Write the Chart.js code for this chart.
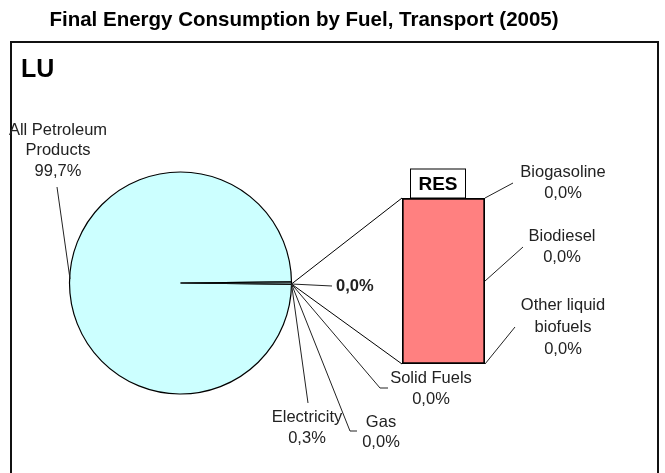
<!DOCTYPE html>
<html>
<head>
<meta charset="utf-8">
<script src="https://cdn.jsdelivr.net/npm/chart.js@4.4.0/dist/chart.umd.min.js"></script>
<style>
  body { margin: 0; background: #fff; }
  #wrap { position: relative; width: 665px; height: 473px; overflow: hidden; }
  #wrap canvas { position: absolute; left: 0; top: 0; }
</style>
</head>
<body>
<div id="wrap">
  <canvas id="pieChart" width="665" height="473"></canvas>
  <canvas id="barChart" width="665" height="473"></canvas>
</div>
<script>
// main pie: share of final energy consumption in transport (%)
const pieLabels = ['All Petroleum Products', 'Electricity', 'Gas', 'Solid Fuels', 'RES'];
const pieValues = [99.7, 0.3, 0.0, 0.0, 0.0];

// secondary bar: split of the RES slice (%)
const resLabels = ['Biogasoline', 'Biodiesel', 'Other liquid biofuels'];
const resValues = [0.0, 0.0, 0.0];
const resBar = [100]; // the bar always stands for the whole RES slice

const titleText = 'Final Energy Consumption by Fuel, Transport (2005)';
const countryText = 'LU';

const FONT = '"Liberation Sans", Arial, sans-serif';
const TXT = '#222';

function pct(v) {
    return v.toFixed(1).replace('.', ',') + '%';
}

function lines(ctx, arr, x, y, lh) {
    for (let i = 0; i < arr.length; i++) ctx.fillText(arr[i], x, y + i * lh);
}

function seg(ctx, pts) {
    ctx.beginPath();
    ctx.moveTo(pts[0][0], pts[0][1]);
    for (let i = 1; i < pts.length; i++) ctx.lineTo(pts[i][0], pts[i][1]);
    ctx.stroke();
}

// small slices sit centred on 3 o'clock
let total = pieValues.reduce((a, b) => a + b, 0);
let smallShare = (total - pieValues[0]) / total;

// frame + title under the pie
const framePlugin = {
    id: 'frame',
    beforeDraw(chart) {
        const ctx = chart.ctx;
        ctx.save();
        ctx.fillStyle = '#fff';
        ctx.fillRect(0, 0, chart.width, chart.height);
        ctx.strokeStyle = '#111';
        ctx.lineWidth = 2;
        ctx.strokeRect(11, 42, 647, 500);
        ctx.fillStyle = '#000';
        ctx.font = 'bold 20.5px ' + FONT;
        ctx.textAlign = 'center';
        ctx.textBaseline = 'alphabetic';
        ctx.fillText(titleText, 304, 26);
        ctx.textAlign = 'left';
        ctx.font = 'bold 25px ' + FONT;
        ctx.fillText(countryText, 21, 77);
        ctx.restore();
    }
};

let pieChart = new Chart(document.getElementById('pieChart').getContext('2d'), {
    type: 'pie',
    data: {
        labels: pieLabels,
        datasets: [{
            data: pieValues,
            backgroundColor: '#ccffff',
            borderColor: '#000',
            borderWidth: 1.2
        }]
    },
    options: {
        responsive: false,
        animation: false,
        events: [],
        rotation: 90 + smallShare * 180,
        radius: 111,
        layout: { padding: { left: 69, right: 373, top: 172, bottom: 79 } },
        plugins: { legend: { display: false }, tooltip: { enabled: false } }
    },
    plugins: [framePlugin]
});

// connectors, RES box and data labels on top
const overlayPlugin = {
    id: 'overlay',
    afterDraw(chart) {
        const ctx = chart.ctx;
        const arc = pieChart.getDatasetMeta(0).data[0];
        const cx = arc.x, cy = arc.y, r = arc.outerRadius;
        const bar = chart.getDatasetMeta(0).data[0];
        const bl = bar.x - bar.width / 2, br = bar.x + bar.width / 2;
        const bt = bar.y, bb = bar.base;
        const px = cx + r, py = cy + 1; // where the small slices sit

        ctx.save();
        ctx.lineWidth = 1;
        ctx.strokeStyle = '#000';
        // pie -> bar connectors
        seg(ctx, [[px, py], [bl, bt]]);
        seg(ctx, [[px, py], [bl, bb]]);

        // RES header box
        ctx.fillStyle = '#fff';
        ctx.fillRect(bl + 8.5, bt - 29, 55, 29);
        ctx.strokeRect(bl + 8.5, bt - 29, 55, 29);
        ctx.fillStyle = '#000';
        ctx.font = 'bold 19px ' + FONT;
        ctx.textAlign = 'center';
        ctx.textBaseline = 'alphabetic';
        ctx.fillText(pieLabels[4], bl + 36, bt - 8);

        // leader lines
        ctx.strokeStyle = '#222';
        seg(ctx, [[57, 187], [cx - r + 0.5, cy - 4]]);
        seg(ctx, [[px, py], [308, 403]]);
        seg(ctx, [[px, py], [350, 431], [357, 431]]);
        seg(ctx, [[px, py], [380, 388], [388, 388]]);
        seg(ctx, [[px, py], [312, 285], [332, 286]]);
        seg(ctx, [[br, bt], [513, 183]]);
        seg(ctx, [[br, (bt + bb) / 2], [523, 247]]);
        seg(ctx, [[br, bb], [515, 327]]);

        // labels
        ctx.fillStyle = TXT;
        ctx.font = '16.5px ' + FONT;
        ctx.textAlign = 'center';
        ctx.textBaseline = 'middle';
        lines(ctx, ['All Petroleum', 'Products', pct(pieValues[0])], 58, 130, 20.5);
        lines(ctx, [pieLabels[1], pct(pieValues[1])], 307, 417, 21);
        lines(ctx, [pieLabels[2], pct(pieValues[2])], 381, 422, 20.5);
        lines(ctx, [pieLabels[3], pct(pieValues[3])], 431, 378, 21);
        lines(ctx, [resLabels[0], pct(resValues[0])], 563, 172, 21);
        lines(ctx, [resLabels[1], pct(resValues[1])], 562, 236, 21);
        lines(ctx, ['Other liquid', 'biofuels', pct(resValues[2])], 563, 305, 22);
        ctx.font = 'bold 16.5px ' + FONT;
        ctx.textAlign = 'left';
        ctx.fillText(pct(pieValues[4]), 336, 286);
        ctx.restore();
    }
};

let barChart = new Chart(document.getElementById('barChart').getContext('2d'), {
    type: 'bar',
    data: {
        labels: [pieLabels[4]],
        datasets: [{
            data: resBar,
            backgroundColor: '#ff8080',
            borderColor: '#000',
            borderWidth: 2,
            borderSkipped: false,
            barPercentage: 1,
            categoryPercentage: 1
        }]
    },
    options: {
        responsive: false,
        animation: false,
        events: [],
        layout: { padding: { left: 402, right: 180, top: 198, bottom: 109 } },
        scales: {
            x: { display: false },
            y: { display: false, min: 0, max: 100 }
        },
        plugins: { legend: { display: false }, tooltip: { enabled: false } }
    },
    plugins: [overlayPlugin]
});
</script>
</body>
</html>
